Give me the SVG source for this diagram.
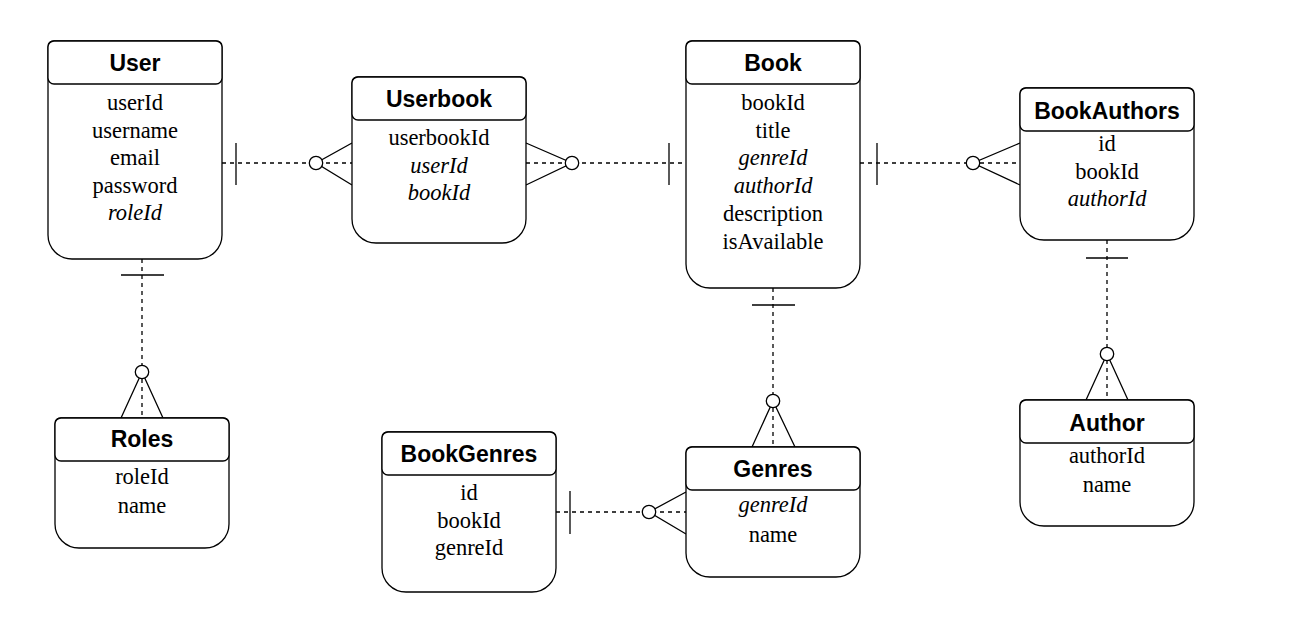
<svg xmlns="http://www.w3.org/2000/svg" width="1316" height="629" viewBox="0 0 1316 629">
<style>
.box{fill:#fff;stroke:#000;stroke-width:1.3}
.t{font-family:"Liberation Sans",Arial,sans-serif;font-weight:bold;font-size:23px;text-anchor:middle;fill:#000}
.f{font-family:"Liberation Serif","Times New Roman",serif;font-size:22.5px;text-anchor:middle;fill:#000}
.i{font-style:italic}
.d{stroke:#000;stroke-width:1.3;stroke-dasharray:4 4;fill:none}
.s{stroke:#000;stroke-width:1.3;fill:none}
.c{stroke:#000;stroke-width:1.3;fill:#fff}
</style>
<rect width="1316" height="629" fill="#fff"/>
<g id="connectors">
<line class="d" x1="222" y1="163" x2="352" y2="163"/>
<line class="s" x1="236" y1="143" x2="236" y2="185"/>
<path class="s" d="M352,143 L316,163 L352,185"/>
<circle class="c" cx="316" cy="163" r="6.7"/>

<line class="d" x1="526" y1="163" x2="686" y2="163"/>
<line class="s" x1="669" y1="143" x2="669" y2="185"/>
<path class="s" d="M526,143 L572,163 L526,185"/>
<circle class="c" cx="572" cy="163" r="6.7"/>

<line class="d" x1="860" y1="163" x2="1020" y2="163"/>
<line class="s" x1="877" y1="143" x2="877" y2="185"/>
<path class="s" d="M1020,143 L973,163 L1020,185"/>
<circle class="c" cx="973" cy="163" r="6.7"/>

<line class="d" x1="142" y1="259" x2="142" y2="418"/>
<line class="s" x1="121" y1="275" x2="164" y2="275"/>
<path class="s" d="M121,418 L142,372 L163,418"/>
<circle class="c" cx="142" cy="372" r="6.7"/>

<line class="d" x1="773" y1="288" x2="773" y2="447"/>
<line class="s" x1="752" y1="305" x2="795" y2="305"/>
<path class="s" d="M752,447 L773,401 L795,447"/>
<circle class="c" cx="773" cy="401" r="6.7"/>

<line class="d" x1="1107" y1="240" x2="1107" y2="400"/>
<line class="s" x1="1086" y1="258" x2="1128" y2="258"/>
<path class="s" d="M1086,400 L1107,354 L1128,400"/>
<circle class="c" cx="1107" cy="354" r="6.7"/>

<line class="d" x1="556" y1="512" x2="686" y2="512"/>
<line class="s" x1="570" y1="491" x2="570" y2="534"/>
<path class="s" d="M686,492 L649,512 L686,534"/>
<circle class="c" cx="649" cy="512" r="6.7"/>
</g>

<g id="User">
<path class="box" d="M54,41 H216 Q222,41 222,47 V235 A24 24 0 0 1 198,259 H72 A24 24 0 0 1 48,235 V47 Q48,41 54,41 Z"/>
<rect class="box" x="48" y="41" width="174" height="43" rx="6"/>
<text class="t" x="135" y="71">User</text>
<text class="f" x="135" y="110">userId</text>
<text class="f" x="135" y="137.5">username</text>
<text class="f" x="135" y="165">email</text>
<text class="f" x="135" y="192.5">password</text>
<text class="f i" x="135" y="220">roleId</text>
</g>

<g id="Userbook">
<path class="box" d="M358,77 H520 Q526,77 526,83 V219 A24 24 0 0 1 502,243 H376 A24 24 0 0 1 352,219 V83 Q352,77 358,77 Z"/>
<rect class="box" x="352" y="77" width="174" height="43" rx="6"/>
<text class="t" x="439" y="107">Userbook</text>
<text class="f" x="439" y="145">userbookId</text>
<text class="f i" x="439" y="172.5">userId</text>
<text class="f i" x="439" y="200">bookId</text>
</g>

<g id="Book">
<path class="box" d="M692,41 H854 Q860,41 860,47 V264 A24 24 0 0 1 836,288 H710 A24 24 0 0 1 686,264 V47 Q686,41 692,41 Z"/>
<rect class="box" x="686" y="41" width="174" height="43" rx="6"/>
<text class="t" x="773" y="71">Book</text>
<text class="f" x="773" y="109.5">bookId</text>
<text class="f" x="773" y="137.5">title</text>
<text class="f i" x="773" y="165">genreId</text>
<text class="f i" x="773" y="193">authorId</text>
<text class="f" x="773" y="221">description</text>
<text class="f" x="773" y="249">isAvailable</text>
</g>

<g id="BookAuthors">
<path class="box" d="M1026,88 H1188 Q1194,88 1194,94 V216 A24 24 0 0 1 1170,240 H1044 A24 24 0 0 1 1020,216 V94 Q1020,88 1026,88 Z"/>
<rect class="box" x="1020" y="88" width="174" height="43" rx="6"/>
<text class="t" x="1107" y="118.5">BookAuthors</text>
<text class="f" x="1107" y="151">id</text>
<text class="f" x="1107" y="179">bookId</text>
<text class="f i" x="1107" y="206">authorId</text>
</g>

<g id="Roles">
<path class="box" d="M61,418 H223 Q229,418 229,424 V524 A24 24 0 0 1 205,548 H79 A24 24 0 0 1 55,524 V424 Q55,418 61,418 Z"/>
<rect class="box" x="55" y="418" width="174" height="43" rx="6"/>
<text class="t" x="142" y="447">Roles</text>
<text class="f" x="142" y="483.5">roleId</text>
<text class="f" x="142" y="512.5">name</text>
</g>

<g id="BookGenres">
<path class="box" d="M388,432 H550 Q556,432 556,438 V568 A24 24 0 0 1 532,592 H406 A24 24 0 0 1 382,568 V438 Q382,432 388,432 Z"/>
<rect class="box" x="382" y="432" width="174" height="43" rx="6"/>
<text class="t" x="469" y="462">BookGenres</text>
<text class="f" x="469" y="499.5">id</text>
<text class="f" x="469" y="527.5">bookId</text>
<text class="f" x="469" y="554.5">genreId</text>
</g>

<g id="Genres">
<path class="box" d="M692,447 H854 Q860,447 860,453 V553 A24 24 0 0 1 836,577 H710 A24 24 0 0 1 686,553 V453 Q686,447 692,447 Z"/>
<rect class="box" x="686" y="447" width="174" height="43" rx="6"/>
<text class="t" x="773" y="476.5">Genres</text>
<text class="f i" x="773" y="512">genreId</text>
<text class="f" x="773" y="541.5">name</text>
</g>

<g id="Author">
<path class="box" d="M1026,400 H1188 Q1194,400 1194,406 V502 A24 24 0 0 1 1170,526 H1044 A24 24 0 0 1 1020,502 V406 Q1020,400 1026,400 Z"/>
<rect class="box" x="1020" y="400" width="174" height="43" rx="6"/>
<text class="t" x="1107" y="430.5">Author</text>
<text class="f" x="1107" y="463">authorId</text>
<text class="f" x="1107" y="492">name</text>
</g>
</svg>
